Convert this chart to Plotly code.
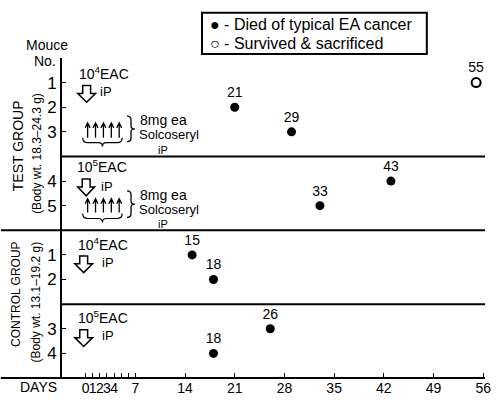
import plotly.graph_objects as go

# ---------------- data ----------------
test_mouse_no = [1, 2, 3, 4, 5]
test_day = [55, 21, 29, 43, 33]
test_outcome = ["survived", "died", "died", "died", "died"]

control_mouse_no = [1, 2, 3, 4]
control_day = [15, 18, 26, 18]
control_outcome = ["died", "died", "died", "died"]

day_ticks = [0, 1, 2, 3, 4, 5, 6, 7, 14, 21, 28, 35, 42, 49, 56]
day_tick_labels = ["0", "1", "2", "3", "4", " ", " ", "7", "14", "21", "28", "35", "42", "49", "56"]

# ---------------- layout helpers ----------------
test_row = {1: 12, 2: 11, 3: 10, 4: 8, 5: 7}
control_row = {1: 5, 2: 4, 3: 2, 4: 1}

FONT = "Liberation Sans Narrow, Liberation Sans, Arial, sans-serif"
W, H = 499, 404
ML, MR, MT, MB = 62, 8, 58, 21
PW, PH = W - ML - MR, H - MT - MB
DAY0_PX, PX_PER_DAY = 86, 7.2


def px2x(px):
    return (px - DAY0_PX) / PX_PER_DAY


def ppx(px):
    return (px - ML) / PW


def ppy(py):
    return (H - MB - py) / PH


def pt(px, py):
    return f"{ppx(px):.5f},{ppy(py):.5f}"


xs_d, ys_d, tx_d = [], [], []
xs_s, ys_s, tx_s = [], [], []
for m, d, o in zip(test_mouse_no, test_day, test_outcome):
    (xs_s if o == "survived" else xs_d).append(d)
    (ys_s if o == "survived" else ys_d).append(test_row[m])
    (tx_s if o == "survived" else tx_d).append(str(d))
for m, d, o in zip(control_mouse_no, control_day, control_outcome):
    (xs_s if o == "survived" else xs_d).append(d)
    (ys_s if o == "survived" else ys_d).append(control_row[m])
    (tx_s if o == "survived" else tx_d).append(str(d))

fig = go.Figure()
fig.add_trace(go.Scatter(
    x=xs_d, y=ys_d, mode="markers+text", text=tx_d, textposition="top center",
    textfont=dict(family=FONT, size=14, color="black"),
    marker=dict(symbol="circle", size=9, color="black"),
    showlegend=False, cliponaxis=False))
fig.add_trace(go.Scatter(
    x=xs_s, y=ys_s, mode="markers+text", text=tx_s, textposition="top center",
    textfont=dict(family=FONT, size=14, color="black"),
    marker=dict(symbol="circle-open", size=9, color="black", line=dict(width=2)),
    showlegend=False, cliponaxis=False))

# ---------------- shapes ----------------
shapes = []
xl = ppx(0)
for yv, x0 in [(9, 0), (6, xl), (3, 0), (0, xl)]:
    shapes.append(dict(type="line", xref="paper", yref="paper", x0=x0, x1=1,
                       y0=yv / 13, y1=yv / 13, line=dict(color="black", width=2)))


def path_shape(p, w):
    return dict(type="path", xref="paper", yref="paper", path=p, line=dict(color="black", width=w))


# legend box (closed path in paper coordinates)
shapes.append(path_shape(f"M {pt(204, 12)} L {pt(432, 12)} L {pt(432, 54)} L {pt(204, 54)} Z", 2))


def down_arrow(x0, y0, x1, y1):
    cx = (x0 + x1) / 2
    hy = y0 + 8
    p = (f"M {pt(cx-4, y0)} L {pt(cx+4, y0)} L {pt(cx+4, hy)} L {pt(x1, hy)} "
         f"L {pt(cx, y1)} L {pt(x0, hy)} L {pt(cx-4, hy)} Z")
    return path_shape(p, 1.5)


def under_brace(x0, x1, y):
    m = (x0 + x1) / 2
    p = (f"M {pt(x0, y-5)} Q {pt(x0, y)} {pt(x0+5, y)} L {pt(m-4, y)} Q {pt(m, y)} {pt(m, y+4)} "
         f"Q {pt(m, y)} {pt(m+4, y)} L {pt(x1-5, y)} Q {pt(x1, y)} {pt(x1, y-5)}")
    return path_shape(p, 1.2)


def right_brace(x, y0, y1):
    m = (y0 + y1) / 2
    p = (f"M {pt(x-4, y0)} Q {pt(x, y0)} {pt(x, y0+4)} L {pt(x, m-3)} Q {pt(x, m)} {pt(x+4, m)} "
         f"Q {pt(x, m)} {pt(x, m+3)} L {pt(x, y1-4)} Q {pt(x, y1)} {pt(x-4, y1)}")
    return path_shape(p, 1.3)


def up_arrow(x, y_head, y_tail):
    p = (f"M {pt(x, y_tail)} L {pt(x, y_head)} M {pt(x-2.5, y_head+5)} L {pt(x, y_head)} "
         f"L {pt(x+2.5, y_head+5)}")
    return path_shape(p, 1.3)


shapes += [down_arrow(78, 86, 96, 103), down_arrow(78, 181, 95, 198),
           down_arrow(75, 259, 93, 276), down_arrow(75, 334, 93, 351)]
shapes += [under_brace(83, 123, 144), under_brace(83, 123, 221)]
shapes += [right_brace(132, 117, 143), right_brace(132, 193, 220)]
for tail, head in [(139, 124), (215, 201)]:
    for ax_px in (88, 96, 104, 112, 120):
        shapes.append(up_arrow(ax_px, head, tail))

# ---------------- annotations ----------------
ann = []


def txt(text, px, py, size=15, xanchor="center", angle=0, yanchor="middle"):
    ann.append(dict(text=text, x=ppx(px), y=ppy(py), xref="paper", yref="paper", showarrow=False,
                    xanchor=xanchor, yanchor=yanchor, textangle=angle,
                    font=dict(family=FONT, size=size, color="black")))


txt("10<sup>4</sup>EAC", 105, 73, 14)
txt("iP", 99, 92, 13, "left")
txt("10<sup>5</sup>EAC", 103, 168, 14)
txt("iP", 100, 188, 13, "left")
txt("10<sup>4</sup>EAC", 104, 247, 14)
txt("iP", 101, 266, 13, "left")
txt("10<sup>5</sup>EAC", 104, 321, 14)
txt("iP", 101, 340, 13, "left")

for yy in (0, 76):
    txt("8mg ea", 139, 121 + yy, 14, "left")
    txt("Solcoseryl", 138, 136 + yy, 13, "left")
    txt("iP", 164, 151 + yy, 11)

txt("Mouce", 47, 45, 14)
txt("No.", 58, 61, 14, "right")
txt("TEST GROUP", 17, 147, 14, angle=-90)
txt("(Body wt. 18.3\u201324.3 g)", 36, 155, 12, angle=-90)
txt("CONTROL GROUP", 16, 298, 12, angle=-90)
txt("(Body wt. 13.1\u201319.2 g)", 36, 306, 12, angle=-90)
txt("DAYS", 38, 392, 14)

txt("\u25CF - Died of typical EA cancer", 210, 24, 16, "left")
txt("\u25CB - Survived & sacrificed", 210, 43, 16, "left")

rows = list(test_row.values()) + list(control_row.values())
row_labels = [str(k) for k in test_row] + [str(k) for k in control_row]

fig.update_layout(
    width=W, height=H, margin=dict(l=ML, r=MR, t=MT, b=MB),
    paper_bgcolor="white", plot_bgcolor="white",
    showlegend=False, shapes=shapes, annotations=ann,
    xaxis=dict(range=[px2x(ML), px2x(W - MR)], tickvals=day_ticks, ticktext=day_tick_labels,
               tickangle=0, ticks="inside", ticklen=5, tickwidth=1.3, tickcolor="black",
               showgrid=False, zeroline=False, showline=False,
               tickfont=dict(family=FONT, size=14, color="black")),
    yaxis=dict(range=[0, 13], tickvals=rows, ticktext=row_labels,
               ticks="inside", ticklen=4, tickwidth=1.3, tickcolor="black",
               showgrid=False, zeroline=False, showline=True, linecolor="black", linewidth=2,
               tickfont=dict(family=FONT, size=17, color="black")),
)

fig.write_html("out.html", config={"displayModeBar": False},
               post_script="document.body.style.margin='0';")
